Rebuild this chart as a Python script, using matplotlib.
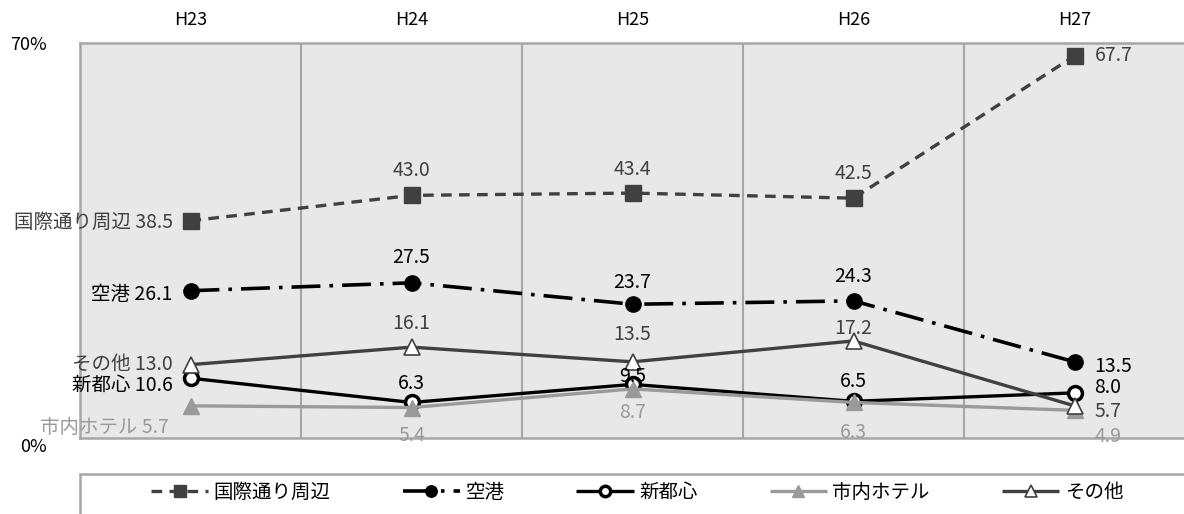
import matplotlib
matplotlib.use("Agg")
import matplotlib.pyplot as plt
from matplotlib.patches import Rectangle

plt.rcParams['font.family'] = ['Noto Sans CJK JP', 'DejaVu Sans']

# ---- data ----
years = ['H23', 'H24', 'H25', 'H26', 'H27']
names = ['国際通り周辺', '空港', '新都心', '市内ホテル', 'その他']
kokusai = [38.5, 43.0, 43.4, 42.5, 67.7]
kuko = [26.1, 27.5, 23.7, 24.3, 13.5]
shintoshin = [10.6, 6.3, 9.5, 6.5, 8.0]
hotel = [5.7, 5.4, 8.7, 6.3, 4.9]
sonota = [13.0, 16.1, 13.5, 17.2, 5.7]
series_values = [kokusai, kuko, shintoshin, hotel, sonota]
ytick_vals = [0, 70]
ytick_labels = ['0%', '70%']

# ---- styles ----
DARK = '#404040'
GRAY = '#9a9a9a'
styles = [
    dict(color=DARK, ls=(0, (3.2, 2.2)), lw=2.4, marker='s', ms=11, mfc=DARK, mec=DARK, mew=1),
    dict(color='black', ls=(0, (8, 2.5, 1, 2.5)), lw=2.6, marker='o', ms=11, mfc='black', mec='black', mew=1),
    dict(color='black', ls='-', lw=2.4, marker='o', ms=10, mfc='white', mec='black', mew=2.5),
    dict(color=GRAY, ls='-', lw=2.4, marker='^', ms=11, mfc=GRAY, mec=GRAY, mew=1),
    dict(color=DARK, ls='-', lw=2.4, marker='^', ms=11, mfc='white', mec=DARK, mew=1.2),
]
label_colors = [DARK, 'black', 'black', GRAY, DARK]
# label offsets in pixels (dx, dy), per point
offsets = [
    [(-18, -2), (0, 25), (0, 24), (0, 25), (20, 0)],
    [(-18, -4), (0, 25), (0, 22), (0, 24), (20, -5)],
    [(-18, -7), (0, 19), (0, 8), (0, 20), (20, 5)],
    [(-22, -22), (0, -28), (0, -24), (0, -30), (20, -26)],
    [(-18, 0), (0, 24), (0, 27), (0, 12), (20, -6)],
]

W, H = 1184, 514
fig = plt.figure(figsize=(W / 100, H / 100), dpi=100)
ax = fig.add_axes([80 / W, 1 - 438 / H, (1185 - 80) / W, (438 - 43) / H])
ax.set_facecolor('#e8e8e8')

x = list(range(len(years)))
for vals, st, nm, lc, offs in zip(series_values, styles, names, label_colors, offsets):
    ax.plot(x, vals, label=nm, solid_capstyle='butt', dash_capstyle='butt', clip_on=False, **st)
    for i, v in enumerate(vals):
        dx, dy = offs[i]
        if i == 0:
            txt, ha = f'{nm} {v:.1f}', 'right'
        elif i == len(vals) - 1:
            txt, ha = f'{v:.1f}', 'left'
        else:
            txt, ha = f'{v:.1f}', 'center'
        ax.annotate(txt, (i, v), xytext=(dx, dy), textcoords='offset pixels',
                    ha=ha, va='center', color=lc, fontsize=14, zorder=5)

ax.set_xlim(-0.5, len(years) - 0.5)
ax.set_ylim(0, 70)
ax.xaxis.tick_top()
ax.set_xticks(x)
ax.set_xticklabels(years, fontsize=13)
ax.tick_params(axis='x', length=0, pad=10)
ax.set_yticks(ytick_vals)
ax.set_yticklabels(ytick_labels, fontsize=13)
ax.tick_params(axis='y', length=0, pad=24)
for lab in ax.get_yticklabels():
    if lab.get_text() == '0%':
        lab.set_va('top')
for xv in [0.5, 1.5, 2.5, 3.5]:
    ax.axvline(xv, color='#a6a6a6', lw=1.5, zorder=0.5)
for sp in ax.spines.values():
    sp.set_color('#a6a6a6')
    sp.set_linewidth(1.8)

# legend box
fig.add_artist(Rectangle((80 / W, -0.2), 1.0, 0.2 + (514 - 474) / H, transform=fig.transFigure,
                         fill=False, edgecolor='#a6a6a6', lw=1.8))
handles, labels = ax.get_legend_handles_labels()
fig.legend(handles, labels, loc='center', bbox_to_anchor=(637 / W, 1 - 492 / H), ncol=5,
           frameon=False, handlelength=2.95, handletextpad=0.28, columnspacing=3.7,
           fontsize=14, markerscale=0.75)

fig.savefig('out.png', dpi=100)
